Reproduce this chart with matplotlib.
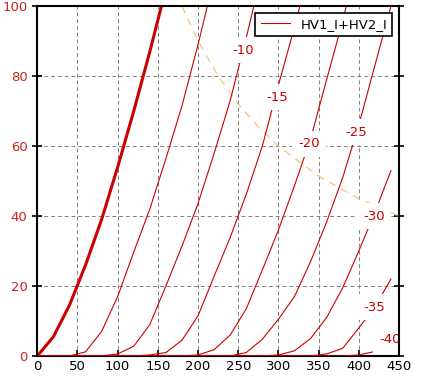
import numpy as np
import matplotlib
matplotlib.use('Agg')
import matplotlib.pyplot as plt

nan = np.nan

# plate voltage samples (V)
va = [0, 20, 40, 60, 80, 100, 120, 140, 160, 180, 200, 220,
      240, 260, 280, 300, 320, 340, 360, 380, 400, 420, 440]

# plate current (mA) for each grid voltage
i_g0 = [0, 5.5, 14.5, 26, 39, 54, 70, 87, 105] + [nan] * 14
i_g5 = [0, 0, 0, 1.2, 7, 17, 29.7, 42, 56.4, 71.5, 89, 108] + [nan] * 11
i_g10 = [0, 0, 0, 0, 0, 0.6, 2.8, 9, 20, 31.4, 43.6, 57.9, 73, 91, 110] + [nan] * 8
i_g15 = [0, 0, 0, 0, 0, 0, 0, 0.3, 1, 4.5, 11.5, 22.8, 33.9, 46.2, 60, 77.4,
         94, 112] + [nan] * 5
i_g20 = [0, 0, 0, 0, 0, 0, 0, 0, 0, 0, 0.3, 1.8, 6, 13.5, 24.6, 36, 48.7,
         62, 79, 95.8, 115, nan, nan]
i_g25 = [0, 0, 0, 0, 0, 0, 0, 0, 0, 0, 0, 0, 0, 1, 4.8, 10.5, 17, 27, 38.3,
         51, 66, 83, 100]
i_g30 = [0, 0, 0, 0, 0, 0, 0, 0, 0, 0, 0, 0, 0, 0, 0, 0.3, 1.5, 5, 11, 19.5,
         30, 41, 53]
i_g35 = [0, 0, 0, 0, 0, 0, 0, 0, 0, 0, 0, 0, 0, 0, 0, 0, 0, 0, 0.6, 2.2,
         8, 14, 22]
i_g40 = [0, 0, 0, 0, 0, 0, 0, 0, 0, 0, 0, 0, 0, 0, 0, 0, 0, 0, 0, 0,
         0.3, 1.3, 4.5]

curves = [i_g0, i_g5, i_g10, i_g15, i_g20, i_g25, i_g30, i_g35, i_g40]

# curve labels and where they sit (V, mA)
label_text = ['-10', '-15', '-20', '-25', '-30', '-35', '-40']
label_va = [256, 298, 338, 397, 419, 419, 439]
label_ia = [87.4, 74, 60.6, 64, 40, 14, 4.6]

# max dissipation line
pd_va = [180, 200, 225, 250, 275, 300, 350, 400, 450]
pd_ia = [100, 90, 80, 72, 65.5, 60, 51.4, 45, 40]

red = '#cc0000'

fig = plt.figure(figsize=(4.21, 3.81), dpi=100)
ax = fig.add_axes([0.0886, 0.0656, 0.8591, 0.9184])

for k, ia in enumerate(curves):
    lw = 2.2 if k == 0 else 0.8
    ax.plot(va, ia, color=red, lw=lw, zorder=3,
            label='HV1_I+HV2_I' if k == 1 else None)

ax.plot(pd_va, pd_ia, color='#f2c480', lw=0.9, ls=(0, (6, 5)), zorder=2)

for t, x, y in zip(label_text, label_va, label_ia):
    ax.text(x, y, t, color=red, fontsize=9.5, ha='center', va='center',
            zorder=4, bbox=dict(fc='white', ec='none', pad=4.5))

ax.set_xlim(0, 450)
ax.set_ylim(0, 100)
ax.set_xticks(range(0, 451, 50))
ax.set_yticks(range(0, 101, 20))
ax.grid(True, color='#808080', ls=(0, (4, 3)), lw=0.7)
ax.set_axisbelow(True)

ax.tick_params(axis='both', width=1.2, labelsize=9.5)
ax.tick_params(axis='y', direction='inout', length=7, right=True,
               labelcolor='#cc2222')
ax.tick_params(axis='x', direction='in', length=4, labelcolor='black', pad=3)
for name, s in ax.spines.items():
    s.set_linewidth(1.5)
    s.set_zorder(2.5 if name == 'bottom' else 5)

leg = ax.legend(loc='upper right', fontsize=9.5, fancybox=False,
                framealpha=1, edgecolor='black', borderaxespad=0.5,
                handlelength=2.2)
leg.get_frame().set_linewidth(1.2)
leg.set_zorder(6)

fig.savefig('out.png', dpi=100)
